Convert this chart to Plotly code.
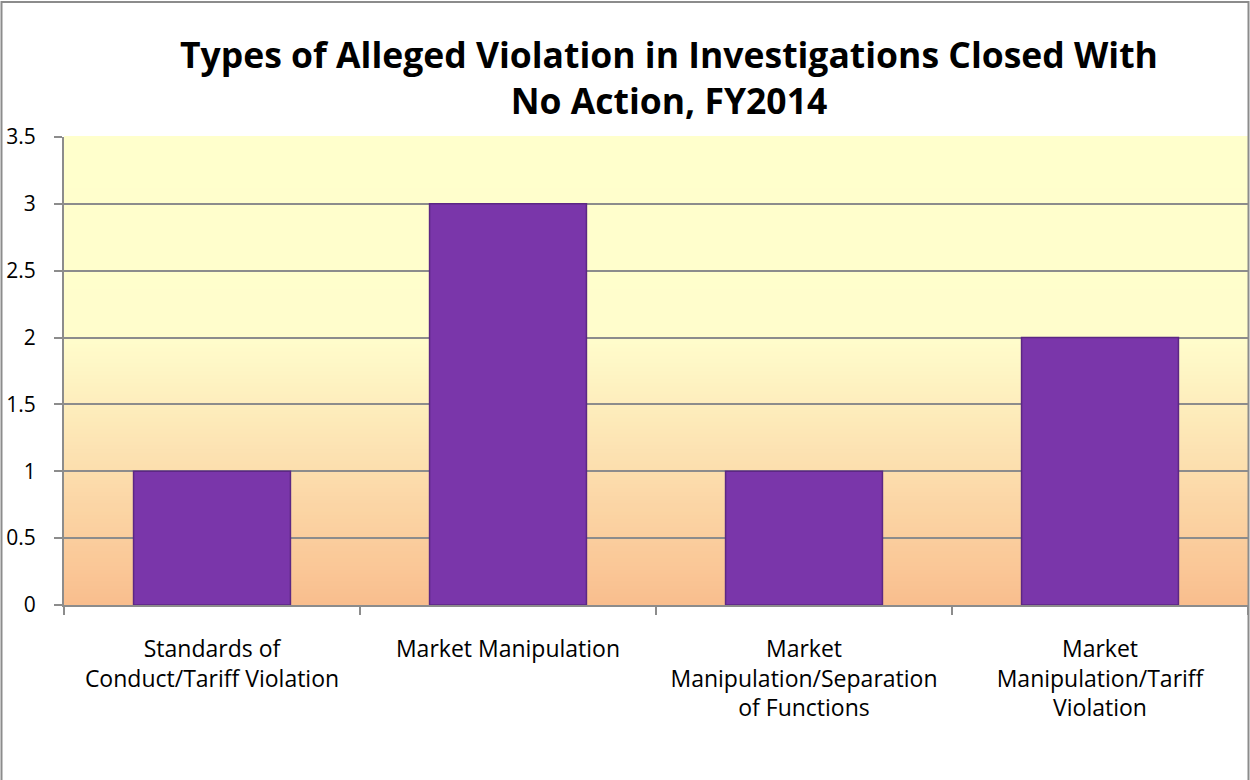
import plotly.graph_objects as go

categories = [
    "Standards of<br>Conduct/Tariff Violation",
    "Market Manipulation",
    "Market<br>Manipulation/Separation<br>of Functions",
    "Market<br>Manipulation/Tariff<br>Violation",
]
counts = [1, 3, 1, 2]
y_ticks = [0, 0.5, 1, 1.5, 2, 2.5, 3, 3.5]
y_labels = ["0", "0.5", "1", "1.5", "2", "2.5", "3", "3.5"]

W, H = 1250, 780
L, R, T, B = 64, 2, 137, 175
FONT = "Open Sans"

fig = go.Figure()
fig.add_bar(
    x=categories, y=counts,
    marker={"color": "#7a36aa", "line": {"color": "#5c2784", "width": 1.5}},
    hoverinfo="y",
)

# vertical plot-area gradient: peach at the bottom, pale yellow from ~2 up
stops = [(0.0, (249, 190, 142)), (0.57, (255, 253, 204)), (1.0, (255, 255, 204))]


def grad(f):
    for (f0, c0), (f1, c1) in zip(stops, stops[1:]):
        if f <= f1:
            t = (f - f0) / (f1 - f0)
            return "rgb(%d,%d,%d)" % tuple(round(a + (b - a) * t) for a, b in zip(c0, c1))
    return "rgb(%d,%d,%d)" % stops[-1][1]


n = 120
shapes = []
for i in range(n):
    shapes.append(dict(
        type="rect", xref="x domain", yref="y domain", layer="below",
        x0=0, x1=1, y0=i / n, y1=(i + 1) / n + 0.002,
        fillcolor=grad((i + 0.5) / n), line={"width": 0},
    ))

# outer chart border (bottom edge falls just outside the picture)
pw, ph = W - L - R, H - T - B
shapes.append(dict(
    type="rect", xref="paper", yref="paper", layer="above",
    x0=(1.5 - L) / pw, x1=(W - 1.5 - L) / pw,
    y0=-(B + 4) / ph, y1=1 + (T - 2) / ph,
    line={"color": "#8c8c8c", "width": 2}, fillcolor="rgba(0,0,0,0)",
))

fig.update_layout(
    width=W, height=H,
    margin={"l": L, "r": R, "t": T, "b": B, "pad": 0, "autoexpand": False},
    paper_bgcolor="white", plot_bgcolor="rgba(0,0,0,0)",
    font={"family": FONT, "color": "#000000"},
    title={
        "text": "<b>Types of Alleged Violation in Investigations Closed With<br>No Action, FY2014</b>",
        "x": 669 / W, "xanchor": "center", "y": 1 - 68 / H, "yanchor": "top",
        "font": {"size": 35.5, "family": FONT, "color": "#000000"},
        "automargin": False,
    },
    bargap=0.47,
    showlegend=False,
    shapes=shapes,
)
fig.update_xaxes(
    type="category", tickson="boundaries", ticks="outside", ticklen=8,
    tickcolor="#8c8c8c", tickwidth=1.5, automargin=False,
    showline=True, linecolor="#8c8c8c", linewidth=2,
    showgrid=False, tickfont={"size": 23, "family": FONT},
    ticklabelstandoff=22,
)
fig.update_yaxes(
    range=[0, 3.5], tickvals=y_ticks, ticktext=y_labels, automargin=False,
    ticks="outside", ticklen=8, tickcolor="#8c8c8c", tickwidth=1.5,
    showline=True, linecolor="#8c8c8c", linewidth=2,
    showgrid=True, gridcolor="#8c8c8c", gridwidth=1.5,
    zeroline=False, tickfont={"size": 21, "family": FONT},
    ticklabelstandoff=14,
)

# page has a default 8px body margin; drop it so the figure fills the window
fig.write_html(
    "out.html",
    config={"displayModeBar": False},
    post_script="document.body.style.margin='0';",
)
